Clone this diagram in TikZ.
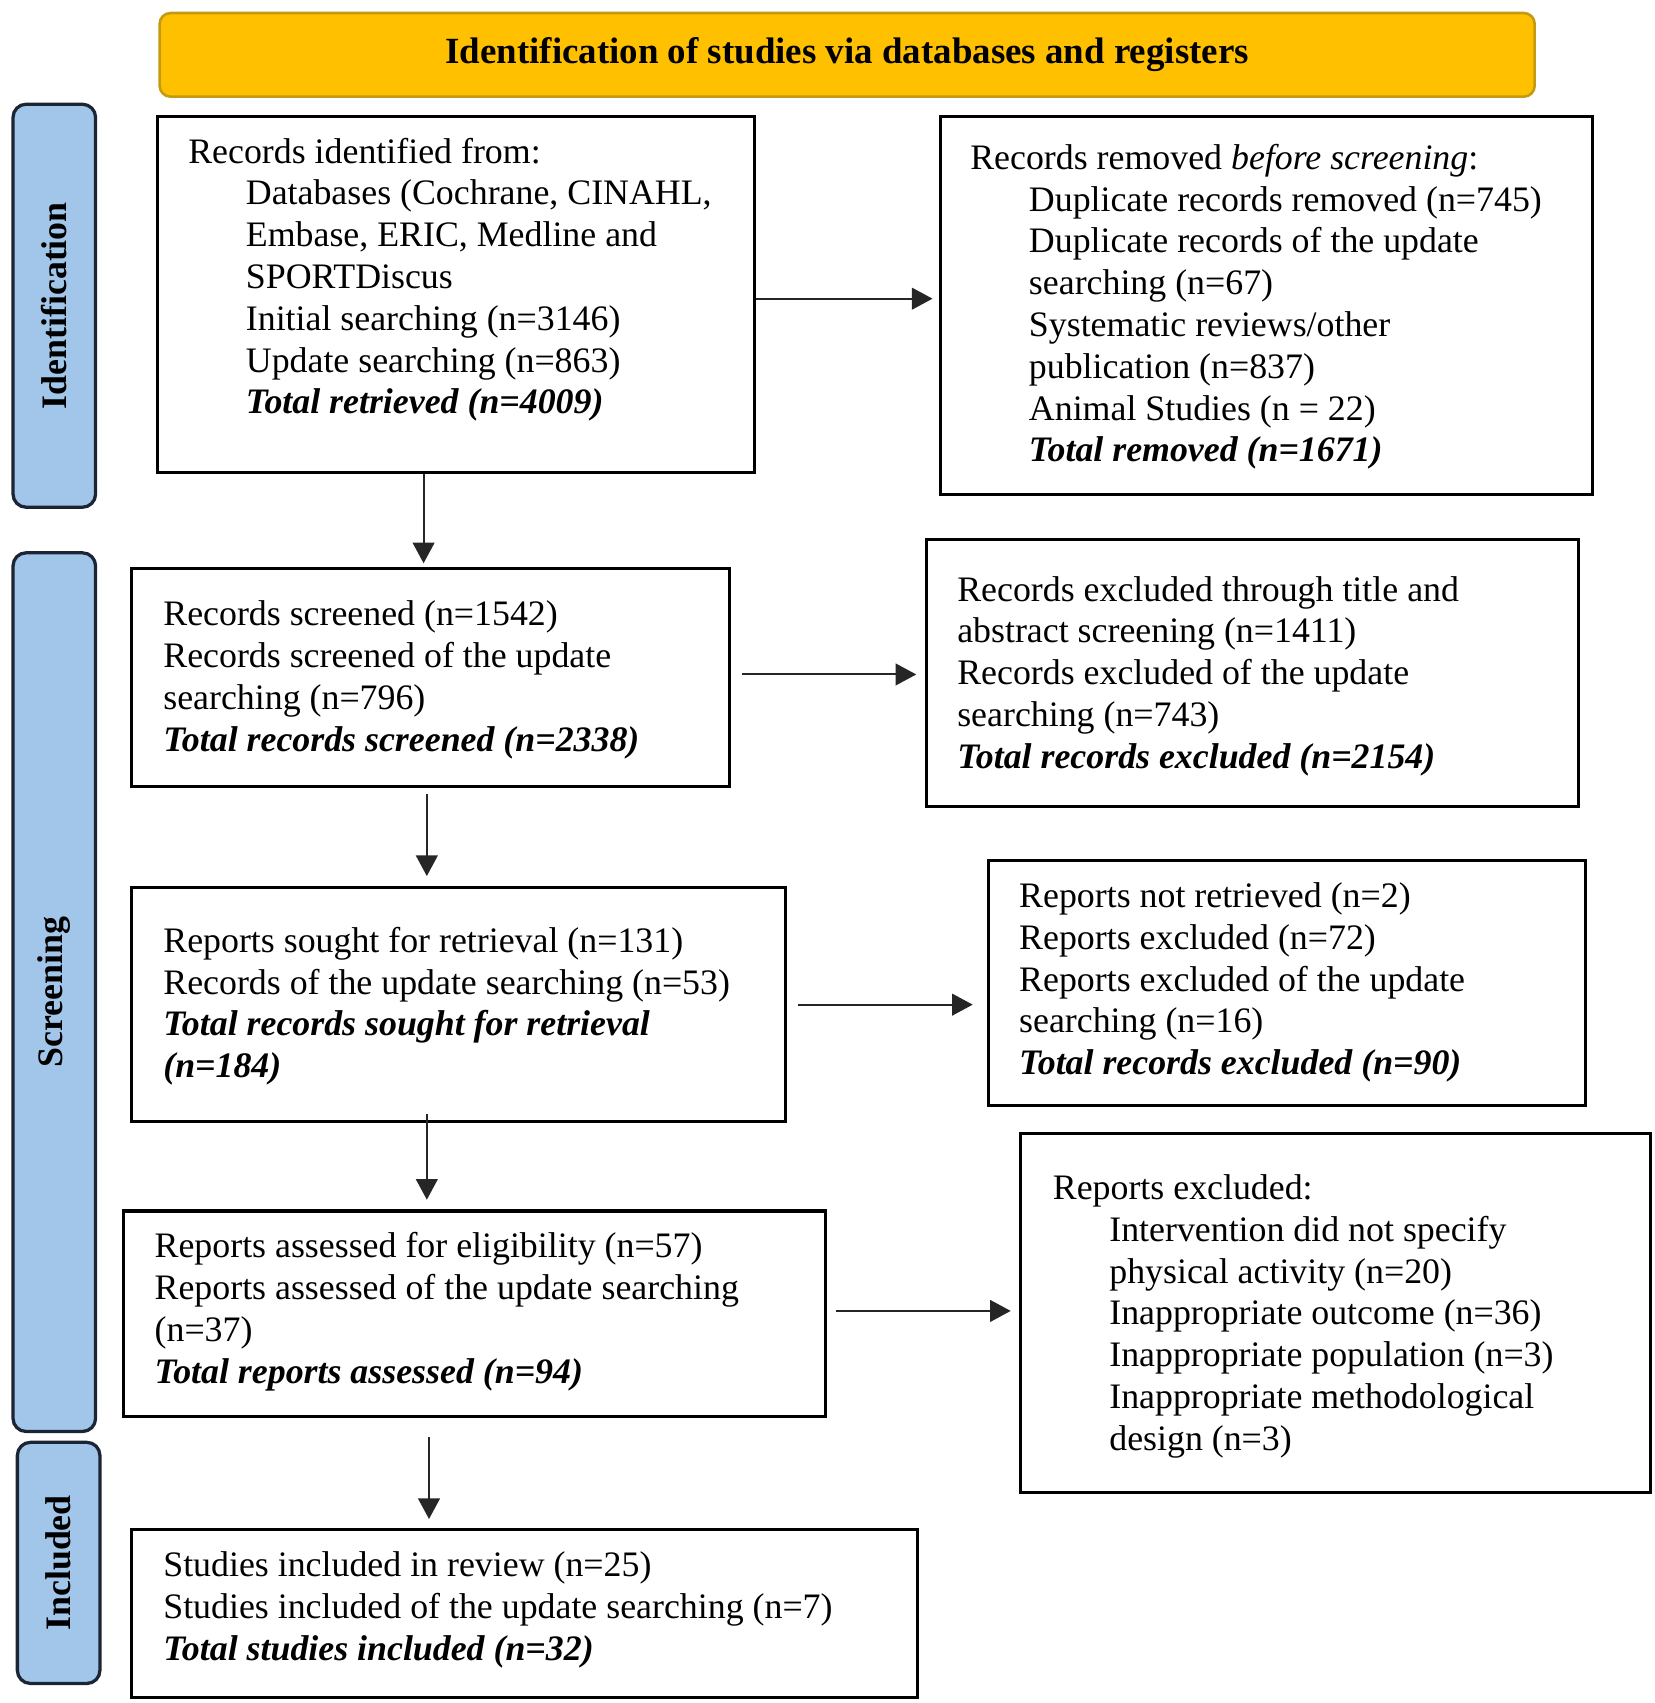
\documentclass[tikz,border=0pt]{standalone}
\usepackage{fontspec}
\setmainfont{Liberation Serif}
\usetikzlibrary{arrows.meta,fit,calc}
\definecolor{hdrfill}{HTML}{FFC000}
\definecolor{hdrline}{HTML}{C39A12}
\definecolor{sidefill}{HTML}{A2C6EA}
\definecolor{sideline}{HTML}{1C2533}
\begin{document}
\begin{tikzpicture}[x=0.5pt,y=-0.5pt,
  box/.style={draw=black, line width=1.4pt, inner sep=0pt, rectangle},
  txt/.style={anchor=west, align=left, inner sep=0pt, font=\fontsize{16.5}{19.25}\selectfont},
  hdr/.style={draw=hdrline, fill=hdrfill, line width=1.2pt, rounded corners=5pt, inner sep=0pt},
  side/.style={draw=sideline, fill=sidefill, line width=1.5pt, rounded corners=6pt, inner sep=0pt},
  sidetxt/.style={rotate=90, font=\bfseries\fontsize{16.5}{19}\selectfont, inner sep=0pt},
  arr/.style={draw=black!85, line width=0.9pt, -{Triangle[length=9.5pt,width=10pt]}},
]
\useasboundingbox (0,0) rectangle (1523,1568);

% header
\node[hdr, fit={(147,12) (1413,89)}] (hdr) {};
\node[font=\bfseries\fontsize{17}{20}\selectfont, inner sep=0pt] (hdrt) at (hdr.center) {Identification of studies via databases and registers};

% side labels
\node[side, fit={(12,96) (88,467)}] (sid) {};
\node[sidetxt] (sidt) at (sid.center) {Identification};
\node[side, fit={(12,509) (88,1318)}] (ssc) {};
\node[sidetxt] (ssct) at (ssc.center) {Screening};
\node[side, fit={(16,1328) (92,1550)}] (sin) {};
\node[sidetxt] (sint) at (sin.center) {Included};

% boxes
\node[box, fit={(145,107) (695,435)}] (A) {};
\node[box, fit={(866,107) (1466,455)}] (B) {};
\node[box, fit={(121,523) (672,724)}] (C) {};
\node[box, fit={(853,497) (1453,743)}] (D) {};
\node[box, fit={(121,817) (723,1033)}] (E) {};
\node[box, fit={(910,792) (1460,1018)}] (F) {};
\node[box, fit={(114,1115) (760,1304)}] (G) {};
\node[box, fit={(940,1044) (1520,1374)}] (H) {};
\node[box, fit={(121,1408) (845,1563)}] (I) {};

% texts
\node[txt] (tA) at (173,257.5) {Records identified from:\\
\hspace*{26.5pt}Databases (Cochrane, CINAHL,\\
\hspace*{26.5pt}Embase, ERIC, Medline and\\
\hspace*{26.5pt}SPORTDiscus\\
\hspace*{26.5pt}Initial searching (n=3146)\\
\hspace*{26.5pt}Update searching (n=863)\\
\hspace*{26.5pt}\textbf{\textit{Total retrieved (n=4009)}}};

\node[txt] (tB) at (893,282.5) {Records removed \textit{before screening}:\\
\hspace*{27pt}Duplicate records removed (n=745)\\
\hspace*{27pt}Duplicate records of the update\\
\hspace*{27pt}searching (n=67)\\
\hspace*{27pt}Systematic reviews/other\\
\hspace*{27pt}publication (n=837)\\
\hspace*{27pt}Animal Studies (n = 22)\\
\hspace*{27pt}\textbf{\textit{Total removed (n=1671)}}};

\node[txt] (tC) at (150,626) {Records screened (n=1542)\\
Records screened of the update\\
searching (n=796)\\
\textbf{\textit{Total records screened (n=2338)}}};

\node[txt] (tD) at (881,622.5) {Records excluded through title and\\
abstract screening (n=1411)\\
Records excluded of the update\\
searching (n=743)\\
\textbf{\textit{Total records excluded (n=2154)}}};

\node[txt] (tE) at (150,926.5) {Reports sought for retrieval (n=131)\\
Records of the update searching (n=53)\\
\textbf{\textit{Total records sought for retrieval}}\\
\textbf{\textit{(n=184)}}};

\node[txt] (tF) at (938,904.5) {Reports not retrieved (n=2)\\
Reports excluded (n=72)\\
Reports excluded of the update\\
searching (n=16)\\
\textbf{\textit{Total records excluded (n=90)}}};

\node[txt] (tG) at (142,1207.5) {Reports assessed for eligibility (n=57)\\
Reports assessed of the update searching\\
(n=37)\\
\textbf{\textit{Total reports assessed (n=94)}}};

\node[txt] (tH) at (969,1212) {Reports excluded:\\
\hspace*{26pt}Intervention did not specify\\
\hspace*{26pt}physical activity (n=20)\\
\hspace*{26pt}Inappropriate outcome (n=36)\\
\hspace*{26pt}Inappropriate population (n=3)\\
\hspace*{26pt}Inappropriate methodological\\
\hspace*{26pt}design (n=3)};

\node[txt] (tI) at (150,1482.5) {Studies included in review (n=25)\\
Studies included of the update searching (n=7)\\
\textbf{\textit{Total studies included (n=32)}}};

% arrows
\draw[arr, shorten >=3pt] (A.east |- 0,275) -- (B.west |- 0,275);
\draw[arr, shorten >=1.5pt] (A.south -| 390,0) -- (C.north -| 390,0);
\draw[arr, shorten <=5pt, shorten >=4pt] (C.east |- 0,621) -- (D.west |- 0,621);
\draw[arr, shorten <=3pt, shorten >=4.5pt] (C.south -| 393,0) -- (E.north -| 393,0);
\draw[arr, shorten <=5pt, shorten >=6.5pt] (E.east |- 0,925) -- (F.west |- 0,925);
\draw[arr, shorten <=-4.5pt, shorten >=4.5pt] (E.south -| 393,0) -- (G.north -| 393,0);
\draw[arr, shorten <=4pt, shorten >=4pt] (G.east |- 0,1207) -- (H.west |- 0,1207);
\draw[arr, shorten <=9pt, shorten >=4pt] (G.south -| 395,0) -- (I.north -| 395,0);
\end{tikzpicture}
\end{document}
